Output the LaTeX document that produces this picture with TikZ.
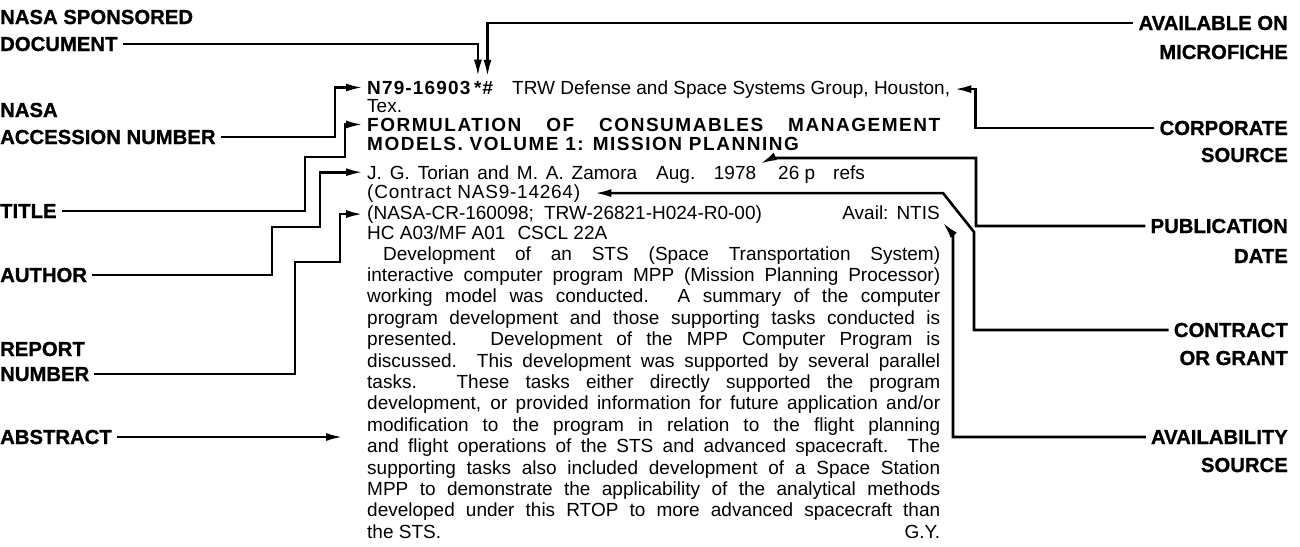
\documentclass[tikz,border=0pt]{standalone}
\usepackage{fontspec}
\setmainfont{Liberation Sans}
\newfontfamily\heavyfont{Liberation Sans}[BoldFeatures={FakeBold=1}]
\usetikzlibrary{arrows.meta, positioning, calc}
\tikzset{
  lbl/.style={inner sep=0pt, font=\fontsize{20.3}{21}\heavyfont\bfseries},
  txt/.style={inner sep=0pt, anchor=base west, font=\fontsize{19}{21}\selectfont},
  hdr/.style={txt, font=\fontsize{19}{21}\selectfont\bfseries\addfontfeatures{LetterSpace=8}},
  conn/.style={line width=2.6pt, -{Latex[length=17pt,width=8pt]}, shorten <=5pt, shorten >=4pt}
}

\begin{document}
\begin{tikzpicture}[x=1pt, y=-1pt]
  \useasboundingbox (0,0) rectangle (1300,546);

  % labels on the left
  \node[lbl, anchor=base west] (sponsA) at (0,24) {NASA SPONSORED};
  \node[lbl, anchor=base west] (sponsB) at (0,51) {DOCUMENT};
  \node[lbl, anchor=base west] (accA) at (0,117) {NASA};
  \node[lbl, anchor=base west] (accB) at (0,144) {ACCESSION NUMBER};
  \node[lbl, anchor=base west] (titl) at (0,218) {TITLE};
  \node[lbl, anchor=base west] (auth) at (0,282) {AUTHOR};
  \node[lbl, anchor=base west] (repA) at (0,356) {REPORT};
  \node[lbl, anchor=base west] (repB) at (0,381) {NUMBER};
  \node[lbl, anchor=base west] (abst) at (0,444) {ABSTRACT};

  % labels on the right
  \node[lbl, anchor=base east] (mfA) at (1288,30) {AVAILABLE ON};
  \node[lbl, anchor=base east] (mfB) at (1288,59) {MICROFICHE};
  \node[lbl, anchor=base east] (corA) at (1288,135) {CORPORATE};
  \node[lbl, anchor=base east] (corB) at (1288,162) {SOURCE};
  \node[lbl, anchor=base east] (pubA) at (1288,233) {PUBLICATION};
  \node[lbl, anchor=base east] (pubB) at (1288,263) {DATE};
  \node[lbl, anchor=base east] (conA) at (1288,337) {CONTRACT};
  \node[lbl, anchor=base east] (conB) at (1288,365) {OR GRANT};
  \node[lbl, anchor=base east] (avA) at (1288,444) {AVAILABILITY};
  \node[lbl, anchor=base east] (avB) at (1288,472) {SOURCE};

  % citation
  \node[txt, font=\fontsize{19}{21}\selectfont\bfseries\addfontfeatures{LetterSpace=6}] (num) at (367,94) {N79-16903};
  \node[txt, font=\fontsize{19}{21}\selectfont\bfseries] (star) at (474,94) {*};
  \node[txt, font=\fontsize{19}{21}\selectfont\bfseries\itshape] (hash) at (482,94) {\#};
  \node[txt] (corp) at (512,94) {TRW Defense and Space Systems Group, Houston,};
  \node[txt] (tex) at (367,112) {Tex.};
  \node[hdr] (titleA) at (367,131) {\makebox[573pt][s]{FORMULATION OF CONSUMABLES MANAGEMENT}};
  \node[hdr] (titleB) at (367,150) {MODELS. VOLUME 1: MISSION PLANNING};
  \node[txt] (authT) at (367,179) {\makebox[270pt][s]{J. G. Torian and M. A. Zamora}};
  \node[txt] (date) at (656,179) {\makebox[100pt][s]{Aug. 1978}};
  \node[txt] (pages) at (778,179) {26 p\hspace{18pt}refs};
  \node[txt, font=\fontsize{19}{21}\selectfont\addfontfeatures{LetterSpace=4}] (contr) at (367,198) {(Contract NAS9-14264)};
  \node[txt] (rep) at (367,219) {(NASA-CR-160098;\hspace{10pt}TRW-26821-H024-R0-00)};
  \node[txt, anchor=base east] (avail) at (940,219) {Avail:\hspace{8pt}NTIS};
  \node[txt] (price) at (367,239) {HC A03/MF A01\hspace{12pt}CSCL 22A};

  % abstract, one node per printed line
  \foreach \absline [count=\i] in {
      {\hspace*{16pt}Development of an STS (Space Transportation System)},
      {interactive computer program MPP (Mission Planning Processor)},
      {working model was conducted. A summary of the computer},
      {program development and those supporting tasks conducted is},
      {presented. Development of the MPP Computer Program is},
      {discussed. This development was supported by several parallel},
      {tasks. These tasks either directly supported the program},
      {development, or provided information for future application and/or},
      {modification to the program in relation to the flight planning},
      {and flight operations of the STS and advanced spacecraft. The},
      {supporting tasks also included development of a Space Station},
      {MPP to demonstrate the applicability of the analytical methods},
      {developed under this RTOP to more advanced spacecraft than},
      {the STS.\hfill G.Y.}}
    \node[txt] (abs\i) at (367,{260+21.4*(\i-1)}) {\makebox[573pt][s]{\absline}};

  % bend points of the pointers on the right
  \coordinate (pubbend) at (772,158);
  \coordinate (conbend) at (943,0);

  % pointers from the left
  \draw[conn] (sponsB.east) -| (star.north);
  \draw[conn] (accB.east) -| ($(num.west)+(-32,0)$) -- (num.west);
  \draw[conn] (titl.east) -| (305,157) -| ($(titleA.west)+(-22,0)$) -- (titleA.west);
  \draw[conn] (auth.east) -| (272,227) -| ($(authT.west)+(-47,0)$) -- (authT.west);
  \draw[conn] (repB.east) -| (295,262) -| ($(rep.west)+(-27,0)$) -- (rep.west);
  \draw[conn, shorten >=24pt] (abst.east) -- (abst.east -| abs1.west);

  % pointers from the right
  \draw[conn] (mfA.west) -| (hash.north);
  \draw[conn] (corA.west) -| ($(corp.east)+(25,0)$) -- (corp.east);
  \draw[conn] (pubA.west) -| (976,158) -- (pubbend) -- (date.north east);
  \draw[conn, shorten >=14pt] (conA.west) -| (974,232) -- (contr.east -| conbend) -- (contr.east);
  \draw[conn] (avA.west) -| ($(avail.south east)+(13,15)$) -- (avail.south east);
\end{tikzpicture}
\end{document}
